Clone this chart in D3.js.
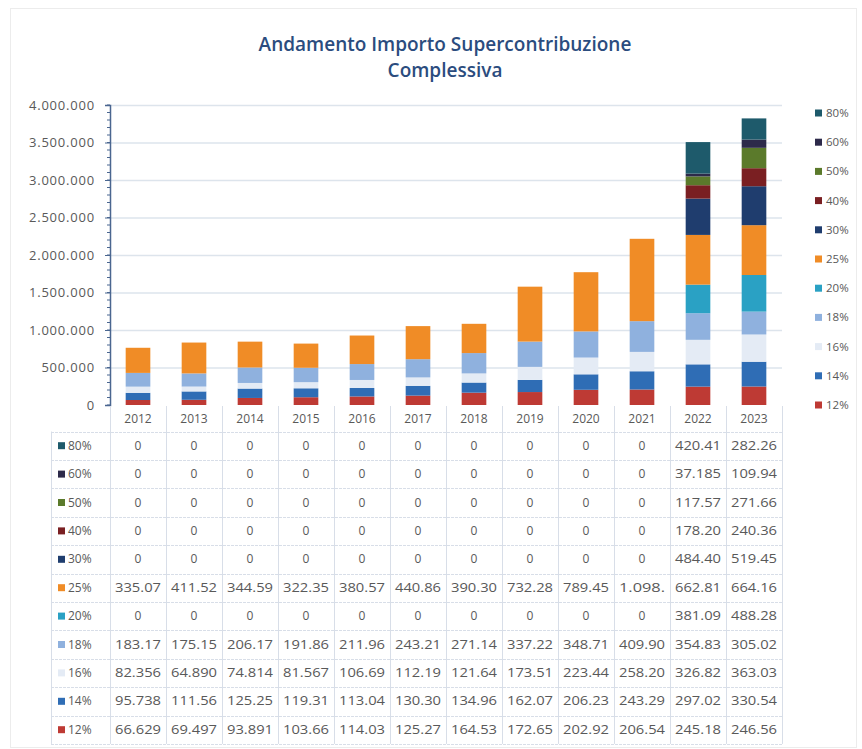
<!DOCTYPE html>
<html>
<head>
<meta charset="utf-8">
<script src="https://cdn.jsdelivr.net/npm/d3@7"></script>
<style>
  body { margin: 0; background: #fff; }
  svg text { font-family: "Open Sans", "Liberation Sans", sans-serif; }
</style>
</head>
<body>
<div id="chart"></div>
<script>
// categories
var years = ["2012","2013","2014","2015","2016","2017","2018","2019","2020","2021","2022","2023"];
// series, bottom to top of stack
var rates = ["12%","14%","16%","18%","20%","25%","30%","40%","50%","60%","80%"];
var rateColors = ["#BE3A34","#2F6DB5","#E4EBF5","#8FB1DE","#2AA1C4","#F08C26","#1F3D6E","#7A1F22","#5B7A2B","#2D2A4A","#1E5A6B"];

var v12 = [66629, 69497, 93891, 103660, 114030, 125270, 164530, 172650, 202920, 206540, 245180, 246560];
var v14 = [95738, 111560, 125250, 119310, 113040, 130300, 134960, 162070, 206230, 243290, 297020, 330540];
var v16 = [82356, 64890, 74814, 81567, 106690, 112190, 121640, 173510, 223440, 258200, 326820, 363030];
var v18 = [183170, 175150, 206170, 191860, 211960, 243210, 271140, 337220, 348710, 409900, 354830, 305020];
var v20 = [0, 0, 0, 0, 0, 0, 0, 0, 0, 0, 381090, 488280];
var v25 = [335070, 411520, 344590, 322350, 380570, 440860, 390300, 732280, 789450, 1098000, 662810, 664160];
var v30 = [0, 0, 0, 0, 0, 0, 0, 0, 0, 0, 484400, 519450];
var v40 = [0, 0, 0, 0, 0, 0, 0, 0, 0, 0, 178200, 240360];
var v50 = [0, 0, 0, 0, 0, 0, 0, 0, 0, 0, 117570, 271660];
var v60 = [0, 0, 0, 0, 0, 0, 0, 0, 0, 0, 37185, 109940];
var v80 = [0, 0, 0, 0, 0, 0, 0, 0, 0, 0, 420410, 282260];

var yTicks = [0, 500000, 1000000, 1500000, 2000000, 2500000, 3000000, 3500000, 4000000];

var series = [v12, v14, v16, v18, v20, v25, v30, v40, v50, v60, v80];

var W = 862, H = 749;
var plotLeft = 110, plotRight = 782, plotTop = 105, plotBottom = 405;

var it = d3.formatLocale({decimal: ",", thousands: ".", grouping: [3], currency: ["", "€"]});
var fmt = it.format(",d");

var svg = d3.select("#chart").append("svg").attr("width", W).attr("height", H);

// chart frame
svg.append("rect").attr("x", 10.5).attr("y", 8.5).attr("width", 846).attr("height", 739)
  .attr("fill", "#fff").attr("stroke", "#ECECEC");

// title
svg.append("text").attr("x", 445).attr("y", 51).attr("text-anchor", "middle")
  .attr("font-size", 19).attr("font-weight", 600).attr("fill", "#2B4C7E")
  .text("Andamento Importo Supercontribuzione");
svg.append("text").attr("x", 445).attr("y", 77).attr("text-anchor", "middle")
  .attr("font-size", 19).attr("font-weight", 600).attr("fill", "#2B4C7E")
  .text("Complessiva");

var x = d3.scaleBand().domain(years).range([plotLeft, plotRight]).paddingInner(0.56).paddingOuter(0.28);
var xCell = d3.scaleBand().domain(years).range([plotLeft, plotRight]);
var y = d3.scaleLinear().domain([0, 4000000]).range([plotBottom, plotTop]);

// gridlines
svg.append("g").selectAll("line").data(yTicks.slice(1)).enter().append("line")
  .attr("x1", plotLeft).attr("x2", plotRight)
  .attr("y1", function(d) { return y(d) + 0.5; }).attr("y2", function(d) { return y(d) + 0.5; })
  .attr("stroke", "#DDE4EC").attr("stroke-width", 1.5);

// stacked bars
var rows = years.map(function(yr, i) {
  var r = {year: yr};
  rates.forEach(function(k, j) { r[k] = series[j][i]; });
  return r;
});
var stack = d3.stack().keys(rates)(rows);

svg.append("g").selectAll("g").data(stack).enter().append("g")
  .attr("fill", function(d, i) { return rateColors[i]; })
  .selectAll("rect").data(function(d) { return d; }).enter().append("rect")
  .attr("x", function(d) { return x(d.data.year); })
  .attr("width", x.bandwidth())
  .attr("y", function(d) { return y(d[1]); })
  .attr("height", function(d) { return y(d[0]) - y(d[1]); });

// y axis
var yAxis = d3.axisLeft(y).tickValues(yTicks).tickFormat(fmt).tickSize(5).tickPadding(10);
var ga = svg.append("g").attr("transform", "translate(" + plotLeft + ",0)").call(yAxis);
ga.select(".domain").attr("stroke", "#4A6690").attr("stroke-width", 1.5);
ga.selectAll(".tick line").attr("stroke", "#4A6690");
ga.selectAll(".tick text").attr("fill", "#595959").attr("font-size", 13)
  .attr("letter-spacing", 0.8)
  .attr("font-family", "'Open Sans', sans-serif");
// minor ticks
var minor = d3.range(0, 4000001, 100000);
svg.append("g").selectAll("line").data(minor).enter().append("line")
  .attr("x1", plotLeft - 3).attr("x2", plotLeft)
  .attr("y1", function(d) { return y(d); }).attr("y2", function(d) { return y(d); })
  .attr("stroke", "#4A6690");

// data table
var rowH = 28.4;
var headTop = plotBottom + 1, headH = 25.5;
var bodyTop = headTop + headH;
var tableLeft = 51;
var tableRows = rates.slice().reverse();
var tableColors = rateColors.slice().reverse();
var tableSeries = series.slice().reverse();
var tbl = svg.append("g");
var lineCol = "#D8DEE8";

// header (years)
tbl.selectAll(".yr").data(years).enter().append("text")
  .attr("x", function(d) { return xCell(d) + xCell.bandwidth() / 2; })
  .attr("y", headTop + headH / 2 + 4)
  .attr("text-anchor", "middle").attr("font-size", 12).attr("fill", "#595959")
  .text(function(d) { return d; });

// vertical lines
tbl.selectAll(".vl").data(d3.range(years.length + 1)).enter().append("line")
  .attr("x1", function(d) { return plotLeft + d * xCell.bandwidth() + 0.5; })
  .attr("x2", function(d) { return plotLeft + d * xCell.bandwidth() + 0.5; })
  .attr("y1", headTop).attr("y2", bodyTop + rowH * tableRows.length)
  .attr("stroke", lineCol);
tbl.append("line").attr("x1", tableLeft + 0.5).attr("x2", tableLeft + 0.5)
  .attr("y1", bodyTop).attr("y2", bodyTop + rowH * tableRows.length).attr("stroke", lineCol);
// horizontal lines
tbl.selectAll(".hl").data(d3.range(tableRows.length + 1)).enter().append("line")
  .attr("x1", tableLeft).attr("x2", plotRight + 0.5)
  .attr("y1", function(d) { return Math.round(bodyTop + d * rowH) + 0.5; })
  .attr("y2", function(d) { return Math.round(bodyTop + d * rowH) + 0.5; })
  .attr("stroke", lineCol).attr("stroke-dasharray", "3,1");

tableRows.forEach(function(rate, r) {
  var cy = bodyTop + r * rowH + rowH / 2;
  tbl.append("rect").attr("x", 58).attr("y", cy - 3.5).attr("width", 7).attr("height", 7)
    .attr("fill", tableColors[r]);
  tbl.append("text").attr("x", 68).attr("y", cy + 4).attr("font-size", 12).attr("fill", "#595959")
    .text(rate);
  tbl.selectAll(null).data(tableSeries[r]).enter().append("text")
    .attr("x", function(d, i) { return xCell(years[i]) + xCell.bandwidth() / 2; })
    .attr("y", cy + 4).attr("text-anchor", "middle").attr("font-size", 12).attr("fill", "#595959")
    .attr("textLength", function(d) { return d > 0 ? 46 : null; })
    .attr("lengthAdjust", "spacingAndGlyphs")
    .text(function(d) { return fmt(d).slice(0, 6); });
});

// legend
var legend = svg.append("g").selectAll("g").data(tableRows).enter().append("g")
  .attr("transform", function(d, i) { return "translate(815," + (113 + i * 29.2) + ")"; });
legend.append("rect").attr("x", 0).attr("y", -3.5).attr("width", 7).attr("height", 7)
  .attr("fill", function(d, i) { return tableColors[i]; });
legend.append("text").attr("x", 11).attr("y", 4).attr("font-size", 11.5).attr("fill", "#595959")
  .text(function(d) { return d; });
</script>
</body>
</html>
